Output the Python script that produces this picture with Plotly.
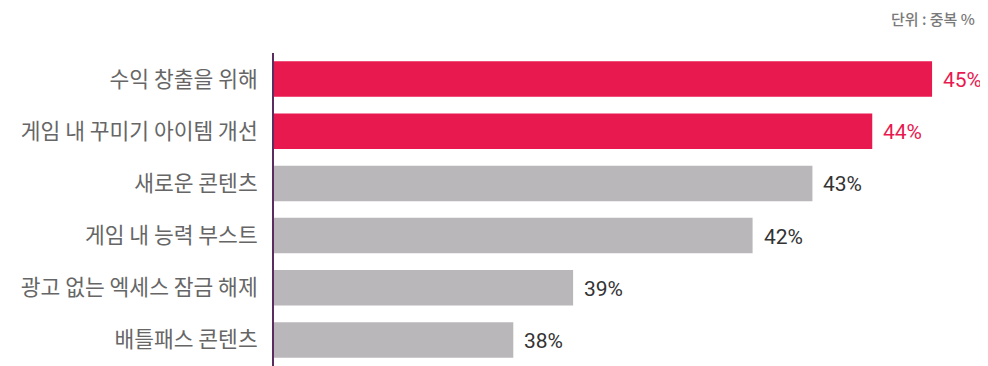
import plotly.graph_objects as go

categories = ["수익 창출을 위해", "게임 내 꾸미기 아이템 개선", "새로운 콘텐츠",
              "게임 내 능력 부스트", "광고 없는 엑세스 잠금 해제", "배틀패스 콘텐츠"]
values = [45, 44, 43, 42, 39, 38]
highlight = [True, True, False, False, False, False]
unit_label = "단위 : 중복 %"

RED = "#E8194F"
GRAY = "#B9B7BA"
bar_colors = [RED if h else GRAY for h in highlight]
text_colors = [RED if h else "#333333" for h in highlight]

fig = go.Figure()
fig.add_trace(go.Bar(
    x=values, y=categories, orientation="h",
    marker=dict(color=bar_colors, line=dict(width=0)),
    hoverinfo="skip",
))

for c, v, tc in zip(categories, values, text_colors):
    fig.add_annotation(x=v, y=c, xref="x", yref="y", text=f"{v}%",
                       showarrow=False, xanchor="left", yanchor="middle",
                       xshift=9, yshift=-1,
                       font=dict(family="Roboto", size=21, color=tc))

fig.add_annotation(x=1, y=1, xref="paper", yref="paper", xanchor="right",
                   yanchor="top", text=unit_label, showarrow=False,
                   xshift=21, yshift=47,
                   font=dict(family="Noto Sans CJK KR", size=15, color="#7a7a7a",
                             weight=500))

# page body has an 8px margin, so the figure is sized/placed to compensate
fig.update_layout(
    width=980, height=358,
    margin=dict(l=266, r=32, t=45, b=0),
    paper_bgcolor="white", plot_bgcolor="white",
    bargap=0.32,
    showlegend=False,
    xaxis=dict(range=[34.0, 45.4], visible=False, showgrid=False, zeroline=False),
    yaxis=dict(autorange="reversed", showline=True, linecolor="#5B2C5F", linewidth=2,
               showgrid=False, ticks="", ticklabelstandoff=10,
               tickfont=dict(family="Noto Sans CJK KR", size=21.5, color="#666666")),
)

fig.write_html("out.html")
